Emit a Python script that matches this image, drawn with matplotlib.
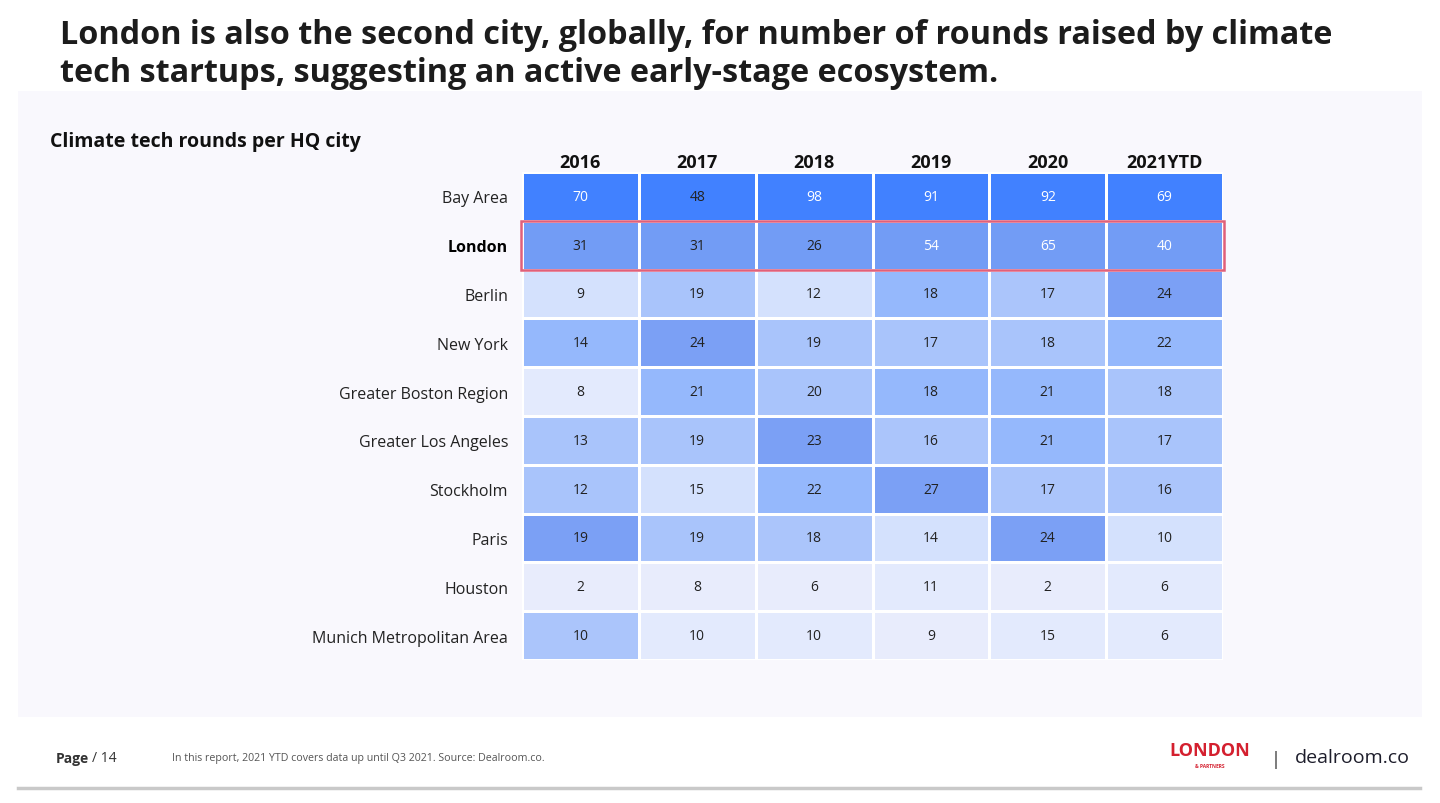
import numpy as np
import pandas as pd
import matplotlib.pyplot as plt
from matplotlib.colors import ListedColormap, BoundaryNorm
from matplotlib.patches import Rectangle

# data
cities = ['Bay Area', 'London', 'Berlin', 'New York', 'Greater Boston Region',
          'Greater Los Angeles', 'Stockholm', 'Paris', 'Houston',
          'Munich Metropolitan Area']
years = ['2016', '2017', '2018', '2019', '2020', '2021YTD']
rounds = [
    [70, 48, 98, 91, 92, 69],
    [31, 31, 26, 54, 65, 40],
    [9, 19, 12, 18, 17, 24],
    [14, 24, 19, 17, 18, 22],
    [8, 21, 20, 18, 21, 18],
    [13, 19, 23, 16, 21, 17],
    [12, 15, 22, 27, 17, 16],
    [19, 19, 18, 14, 24, 10],
    [2, 8, 6, 11, 2, 6],
    [10, 10, 10, 9, 15, 6],
]
highlight_city = 'London'

# style: which value labels are printed in white
white_labels = [
    [1, 0, 1, 1, 1, 1],
    [0, 0, 0, 1, 1, 1],
] + [[0] * 6] * 8

W, H = 1440, 804
plt.rcParams['font.family'] = ['Open Sans', 'DejaVu Sans']

def fx(x):
    return x / W

def fy(y):
    return 1 - y / H

fig = plt.figure(figsize=(W / 100, H / 100), dpi=100, facecolor='white')

# light panel behind the chart
fig.patches.append(Rectangle((fx(18), fy(718)), fx(1422) - fx(18), fy(92) - fy(718),
                             transform=fig.transFigure, facecolor='#f9f8fd',
                             edgecolor='none', zorder=-1))

fig.text(fx(60), fy(35), 'London is also the second city, globally, for number of rounds raised by climate',
         fontsize=23.3, fontweight='bold', color='#1c1c1c', va='center', ha='left')
fig.text(fx(60), fy(73), 'tech startups, suggesting an active early-stage ecosystem.',
         fontsize=23.3, fontweight='bold', color='#1c1c1c', va='center', ha='left')
fig.text(fx(50), fy(142), 'Climate tech rounds per HQ city', fontsize=14,
         fontweight='bold', color='#111111', va='center', ha='left')

# heatmap: shade follows the rank of each city within its year
df = pd.DataFrame(rounds, index=cities, columns=years)
ranks = df.rank(ascending=False, method='min', axis=0).to_numpy()
rank_colors = ['#4181ff', '#729cf5', '#7ba0f5', '#95b8fc', '#a9c4fb',
               '#a9c4fb', '#abc5fb', '#d4e1fd', '#e3eafd', '#e8ecfc']
cmap = ListedColormap(rank_colors)
norm = BoundaryNorm(np.arange(0.5, 11.5, 1), cmap.N)

ax = fig.add_axes([fx(522), fy(661), fx(1223) - fx(522), fy(173) - fy(661)])
ax.set_zorder(2)
ax.patch.set_alpha(0)
ax.pcolormesh(np.arange(len(years) + 1), np.arange(len(cities) + 1), ranks,
              cmap=cmap, norm=norm, edgecolors='white', linewidth=2)
ax.set_xlim(0, len(years))
ax.set_ylim(len(cities), 0)

for i in range(len(cities)):
    for j in range(len(years)):
        ax.text(j + 0.5, i + 0.5, str(df.iat[i, j]), ha='center', va='center',
                fontsize=10, color='white' if white_labels[i][j] else '#222222')

ax.xaxis.tick_top()
ax.set_xticks(np.arange(len(years)) + 0.5)
ax.set_xticklabels(years, fontsize=13, fontweight='bold', color='#111111')
ax.set_yticks(np.arange(len(cities)) + 0.5)
ax.set_yticklabels(cities, fontsize=11.5, color='#222222')
for lab in ax.get_yticklabels():
    if lab.get_text() == highlight_city:
        lab.set_fontweight('bold')
        lab.set_color('#000000')
ax.tick_params(length=0, pad=10)
ax.tick_params(axis='x', pad=1)
for s in ax.spines.values():
    s.set_visible(False)

hi = cities.index(highlight_city)
ax.add_patch(Rectangle((-0.01, hi), len(years) + 0.02, 1, fill=False,
                       edgecolor='#e0607a', linewidth=1.8, clip_on=False, zorder=5))

# footer
fig.text(fx(56), fy(759), 'Page', fontsize=10, fontweight='bold', color='#333333', va='center')
fig.text(fx(92), fy(759), '/ 14', fontsize=10, color='#333333', va='center')
fig.text(fx(172), fy(759), 'In this report, 2021 YTD covers data up until Q3 2021. Source: Dealroom.co.',
         fontsize=7.7, color='#555555', va='center')
fig.text(fx(1210), fy(751), 'LONDON', fontsize=13, fontweight='bold', color='#d4202f',
         ha='center', va='center')
fig.text(fx(1210), fy(767), '& PARTNERS', fontsize=3.5, fontweight='bold', color='#d4202f',
         ha='center', va='center')
fig.text(fx(1276), fy(760), '|', fontsize=13, color='#333333', ha='center', va='center')
fig.text(fx(1295), fy(758), 'dealroom.co', fontsize=14, color='#1d1d2b', ha='left', va='center')
fig.add_artist(plt.Line2D([fx(18), fx(1420)], [fy(789), fy(789)], color='#c9c9c9', linewidth=2.5))

fig.savefig('out.png', dpi=100)
